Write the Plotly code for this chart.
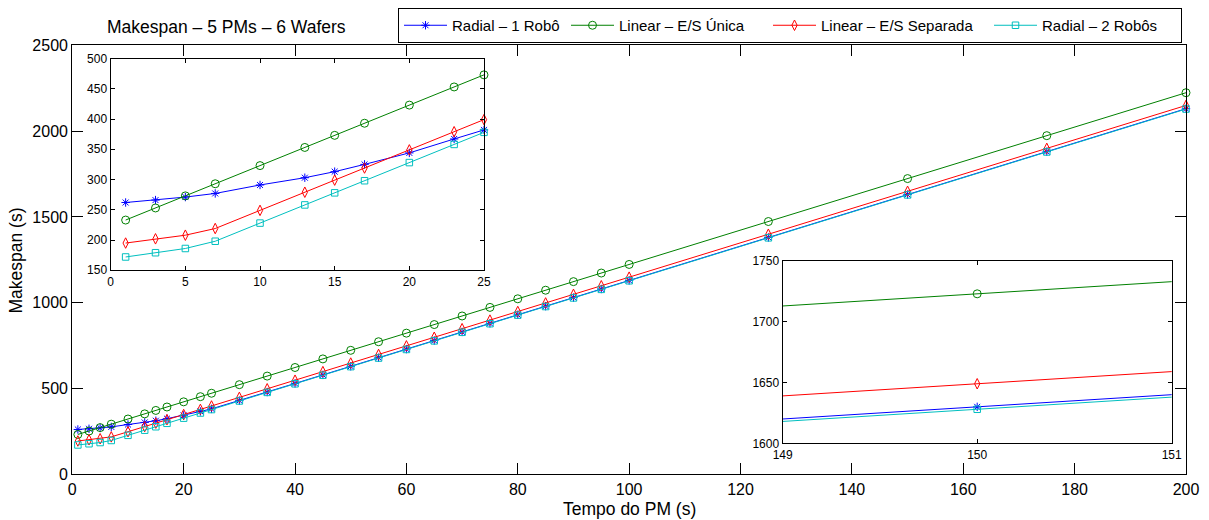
import plotly.graph_objects as go

# ---- data ----
tempo_pm = [1, 3, 5, 7, 10, 13, 15, 17, 20, 23, 25, 30, 35, 40, 45, 50, 55, 60, 65, 70,
            75, 80, 85, 90, 95, 100, 125, 150, 175, 200]
radial_1_robo = [262, 266, 271, 277, 291, 303, 313, 325, 344, 367, 382, 430, 480, 530, 580,
                 630, 680, 730, 780, 830, 880, 930, 980, 1030, 1080, 1130, 1380, 1630, 1880, 2130]
linear_es_unica = [233, 253, 273, 293, 323, 353, 373, 393, 423, 453, 473, 523, 573, 623, 673,
                   723, 773, 823, 873, 923, 973, 1023, 1073, 1123, 1173, 1223, 1473, 1723, 1973, 2223]
linear_es_separada = [195, 202, 208, 219, 249, 279, 299, 319, 349, 379, 399, 449, 499, 549, 599,
                      649, 699, 749, 799, 849, 899, 949, 999, 1049, 1099, 1149, 1399, 1649, 1899, 2149]
radial_2_robos = [172, 179, 186, 198, 228, 258, 278, 298, 328, 358, 378, 428, 478, 528, 578,
                  628, 678, 728, 778, 828, 878, 928, 978, 1028, 1078, 1128, 1378, 1628, 1878, 2128]

series_names = ["Radial – 1 Robô", "Linear – E/S Única", "Linear – E/S Separada", "Radial – 2 Robôs"]
title_text = "Makespan – 5 PMs – 6 Wafers"
x_title = "Tempo do PM (s)"
y_title = "Makespan (s)"
inset_left_xmax = 25

# ---- styles ----
FONT = "Liberation Sans, Arial, Helvetica, sans-serif"
styles = [
    dict(color="#0000FF", symbol="asterisk-open", size=7, lw=109),
    dict(color="#008000", symbol="circle-open", size=8, lw=144),
    dict(color="#FF0000", symbol="diamond-tall-open", size=7.5, lw=163),
    dict(color="#00BFBF", symbol="square-open", size=6.5, lw=134),
]
series = [radial_1_robo, linear_es_unica, linear_es_separada, radial_2_robos]

fig = go.Figure()

def add(xs, ys, name, st, xa, ya, showlegend, clip):
    fig.add_trace(go.Scatter(
        x=xs, y=ys, name=name, mode="lines+markers",
        line=dict(color=st["color"], width=1),
        marker=dict(symbol=st["symbol"], size=st["size"], color=st["color"],
                    line=dict(color=st["color"], width=1)),
        xaxis=xa, yaxis=ya, showlegend=showlegend, cliponaxis=clip,
        legendwidth=st["lw"],
    ))

# main
for ys, nm, st in zip(series, series_names, styles):
    add(tempo_pm, ys, nm, st, "x", "y", True, False)

# left inset (first part of the data)
n_left = sum(1 for v in tempo_pm if v <= inset_left_xmax)
for ys, nm, st in zip(series, series_names, styles):
    add(tempo_pm[:n_left], ys[:n_left], nm, st, "x2", "y2", False, False)

# right inset (zoom around 150)
for ys, nm, st in zip(series, series_names, styles):
    add(tempo_pm, ys, nm, st, "x3", "y3", False, True)

# page body has an 8px margin: figure is drawn 8px right/down
OFF = 8
W, H = 1209 - OFF, 520 - OFF

def px(x):
    return (x - OFF) / W

def py(y):
    return 1 - (y - OFF) / H

def ax(domain, rng, dtick, ticklen, fsize, anchor):
    return dict(domain=domain, range=rng, dtick=dtick, tick0=rng[0],
                ticks="inside", ticklen=ticklen, tickwidth=1, tickcolor="black",
                showline=True, linecolor="black", linewidth=1.3, mirror="ticks",
                showgrid=False, zeroline=False, automargin=False,
                tickfont=dict(family=FONT, size=fsize, color="black"), anchor=anchor)

layout = dict(
    width=W, height=H, autosize=False,
    margin=dict(l=0, r=0, t=0, b=0),
    template="none",
    paper_bgcolor="white", plot_bgcolor="white",
    font=dict(family=FONT, color="black"),
    xaxis=ax([px(72.3), px(1186)], [0, 200], 20, 11, 16, "y"),
    yaxis=ax([py(474.3), py(43.3)], [0, 2500], 500, 11, 16, "x"),
    xaxis2=ax([px(110.7), px(484)], [0, 25], 5, 4, 12, "y2"),
    yaxis2=ax([py(269.3), py(56.7)], [150, 500], 50, 4, 12, "x2"),
    xaxis3=ax([px(782.7), px(1171.7)], [149, 151], 1, 4, 12, "y3"),
    yaxis3=ax([py(443), py(260)], [1600, 1750], 50, 4, 12, "x3"),
    legend=dict(orientation="h", x=px(398), y=py(23.3), xanchor="left", yanchor="middle",
                bordercolor="black", borderwidth=1, bgcolor="white",
                font=dict(family=FONT, size=15, color="black"), itemwidth=43,
                traceorder="normal"),
    showlegend=True,
    annotations=[
        dict(text=title_text, x=px(226.5), y=py(25), xref="paper", yref="paper",
             showarrow=False, xanchor="center", yanchor="middle",
             font=dict(family=FONT, size=17.5, color="black")),
        dict(text=x_title, x=px(629), y=py(509), xref="paper", yref="paper",
             showarrow=False, xanchor="center", yanchor="middle",
             font=dict(family=FONT, size=17.5, color="black")),
        dict(text=y_title, x=px(16.5), y=py(260), xref="paper", yref="paper",
             showarrow=False, xanchor="center", yanchor="middle", textangle=-90,
             font=dict(family=FONT, size=17.5, color="black")),
    ],
)
fig.update_layout(**layout)
fig.write_html("out.html")
